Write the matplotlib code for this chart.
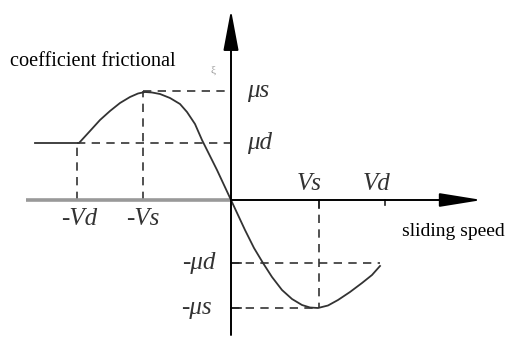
import numpy as np
import matplotlib
matplotlib.use('Agg')
import matplotlib.pyplot as plt

plt.rcParams['font.family'] = 'Liberation Serif'

# characteristic speeds and friction levels
vd = 15.4
vs = 8.8
mu_s = 10.9
mu_d = 5.7
mu_d_neg = -6.3
mu_s_neg = -10.8

# friction curve
curve_x = [-19.6, -15.2, -14.1, -13.1, -12.1, -11.1, -10.1, -9.3, -8.6, -7.9,
           -7.1, -6.1, -5.1, -4.4, -3.6, -2.9, -2.1, -1.4, -0.7, 0.0,
           0.7, 1.4, 2.3, 3.2, 4.1, 5.1, 6.1, 7.1, 7.9, 8.7,
           9.7, 10.7, 11.9, 13.1, 14.1, 14.9]
curve_y = [5.7, 5.7, 6.9, 8.0, 8.9, 9.7, 10.3, 10.65, 10.8, 10.75,
           10.6, 10.2, 9.6, 8.8, 7.6, 6.0, 4.4, 3.0, 1.5, 0.0,
           -1.5, -3.0, -4.8, -6.3, -7.7, -9.0, -9.9, -10.5, -10.75, -10.8,
           -10.55, -10.0, -9.2, -8.3, -7.5, -6.6]

fig = plt.figure(figsize=(5.05, 3.4), dpi=100)
ax = fig.add_axes([0, 0, 1, 1])
ax.set_xlim(-23.1, 27.4)
ax.set_ylim(-14.0, 20.0)
ax.axis('off')

dash = dict(color='#333333', lw=1.2, dashes=(5, 3.8))

# dashed guide lines
ax.plot([-vs, 0], [mu_s, mu_s], **dash)
ax.plot([-vd, 0], [mu_d, mu_d], **dash)
ax.plot([-vs, -vs], [0, mu_s], **dash)
ax.plot([-vd, -vd], [0, mu_d], **dash)
ax.plot([vs, vs], [0, mu_s_neg], **dash)
ax.plot([0, vd - 0.5], [mu_d_neg, mu_d_neg], **dash)
ax.plot([0, vs], [mu_s_neg, mu_s_neg], **dash)

# axes
ax.plot([-20.5, 0], [0, 0], color='#999999', lw=2.6, solid_capstyle='butt')
ax.annotate('', xy=(25.1, 0), xytext=(0, 0),
            arrowprops=dict(arrowstyle='-|>,head_length=2.6,head_width=0.42',
                            mutation_scale=10, lw=1.4, color='black',
                            shrinkA=0, shrinkB=0))
ax.annotate('', xy=(0, 19.0), xytext=(0, -13.5),
            arrowprops=dict(arrowstyle='-|>,head_length=2.5,head_width=0.47',
                            mutation_scale=10, lw=1.4, color='black',
                            shrinkA=0, shrinkB=0))

# small ticks
ax.plot([vs, vs], [0, -0.8], color='#222222', lw=1.2)
ax.plot([vd, vd], [0, -0.5], color='#222222', lw=1.2)
ax.plot([0, 1.0], [mu_d_neg, mu_d_neg], color='#222222', lw=1.2)
ax.plot([0, 1.0], [mu_s_neg, mu_s_neg], color='#222222', lw=1.2)

# friction curve
ax.plot(curve_x, curve_y, color='#333333', lw=1.3)

# labels
lab = dict(fontsize=18, color='#333333', va='center', style='italic')
ax.text(1.6, mu_s, 'μs', ha='left', **lab)
ax.text(1.6, mu_d, 'μd', ha='left', **lab)
ax.text(-1.6, mu_d_neg, '-μd', ha='right', **lab)
ax.text(-1.9, mu_s_neg, '-μs', ha='right', **lab)
ax.text(-vd + 0.2, -1.9, '-Vd', ha='center', **lab)
ax.text(-vs, -1.9, '-Vs', ha='center', **lab)
ax.text(vs - 1.0, 1.6, 'Vs', ha='center', **lab)
ax.text(vd - 0.8, 1.6, 'Vd', ha='center', **lab)

ax.text(-22.1, 13.8, 'coefficient frictional', fontsize=14.6, ha='left', va='center')
ax.text(17.1, -3.2, 'sliding speed', fontsize=14, ha='left', va='center')
ax.text(-1.8, 13.0, 'ξ', fontsize=8, color='#999999', ha='center', va='center')

fig.savefig('out.png', dpi=100)
